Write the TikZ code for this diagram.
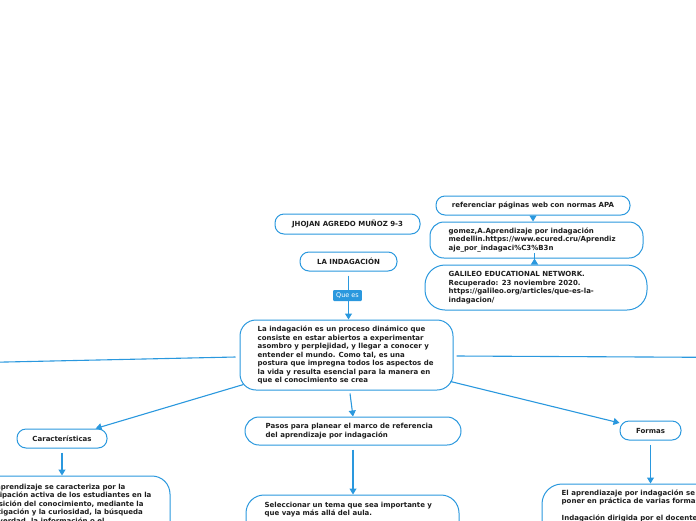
\documentclass[tikz,border=0pt]{standalone}
\usepackage{fontspec}
\setmainfont{DejaVu Sans}
\usetikzlibrary{arrows.meta,calc}
\definecolor{bl}{RGB}{42,152,222}
\definecolor{tx}{RGB}{30,30,30}
\begin{document}
\begin{tikzpicture}[x=1pt,y=-1pt,
 box/.style={draw=bl,line width=1pt,fill=white,rounded corners=#1,inner sep=0pt},
 box/.default=9pt,
 ttl/.style={font=\fontsize{7}{8.5}\selectfont\bfseries,text=tx},
 txt/.style={ttl,align=left,inner sep=0pt,anchor=west},
 conn/.style={draw=bl,line width=1.1pt,-{Triangle[width=7pt,length=6pt]}},
 lnk/.style={draw=bl,line width=1.1pt},
 tag/.style={fill=bl,text=white,font=\fontsize{6.5}{8}\selectfont,inner xsep=3pt,inner ysep=0pt,minimum height=11pt,rounded corners=1pt}]
\useasboundingbox (0,0) rectangle (696,520);
\clip (0,0) rectangle (696,520);

% top nodes
\node[box,ttl,minimum width=145pt,minimum height=20pt] (jhojan) at (347.5,224) {JHOJAN AGREDO MUÑOZ 9-3};
\node[box,ttl,minimum width=97pt,minimum height=19pt] (laind) at (348.5,261.5) {LA INDAGACIÓN};

\node[box,ttl,minimum width=194pt,minimum height=19pt] (ref) at (533,205.5) {referenciar páginas web con normas APA};
\node[box=14pt,minimum width=213pt,minimum height=36pt] (gomez) at (536.5,240) {};
\node[txt] (gomez-t) at ($(gomez.west)+(19,0)$) {gomez,A.Aprendizaje por indagación\\medellin.https://www.ecured.cru/Aprendiz\\aje\_por\_indagaci\%C3\%B3n};
\node[box=20pt,minimum width=222pt,minimum height=45pt] (galileo) at (536,287.5) {};
\node[txt] (galileo-t) at ($(galileo.west)+(24,0)$) {GALILEO EDUCATIONAL NETWORK.\\Recuperado: 23 noviembre 2020.\\https://galileo.org/articles/que-es-la-\\indagacion/};

% main
\node[box=16pt,minimum width=213pt,minimum height=70pt] (main) at (346.5,355) {};
\node[txt] (main-t) at ($(main.west)+(18,0)$) {La indagación es un proceso dinámico que\\consiste en estar abiertos a experimentar\\asombro y perplejidad, y llegar a conocer y\\entender el mundo. Como tal, es una\\postura que impregna todos los aspectos de\\la vida y resulta esencial para la manera en\\que el conocimiento se crea};

% second level
\node[box,ttl,minimum width=90pt,minimum height=19pt] (carac) at (62,438.5) {Características};
\node[box=14pt,minimum width=216pt,minimum height=28pt] (pasos) at (353,431) {};
\node[txt] (pasos-t) at ($(pasos.west)+(21,0)$) {Pasos para planear el marco de referencia\\del aprendizaje por indagación};
\node[box,ttl,minimum width=61pt,minimum height=19pt] (formas) at (650.5,430.5) {Formas};

% third level
\node[box=18pt,minimum width=212pt,minimum height=100pt] (caract) at (64,526) {};
\node[txt,anchor=north west] (caract-t) at ($(caract.north west)+(19,8)$) {Este aprendizaje se caracteriza por la\\participación activa de los estudiantes en la\\adquisición del conocimiento, mediante la\\investigación y la curiosidad, la búsqueda\\de la verdad, la información o el};
\node[box=18pt,minimum width=213pt,minimum height=80pt] (selecc) at (352.5,535) {};
\node[txt,anchor=north west] (selecc-t) at ($(selecc.north west)+(19,7)$) {Seleccionar un tema que sea importante y\\que vaya más allá del aula.};
\node[box=20pt,minimum width=258pt,minimum height=80pt] (formtx) at (671,524) {};
\node[txt,anchor=north west] (formtx-t) at ($(formtx.north west)+(20,6)$) {El aprendiazaje por indagación se puede\\poner en práctica de varias formas:\\[8.5pt]Indagación dirigida por el docente};

% connectors
\coordinate (offl) at (-40,363);
\coordinate (offr) at (740,357.5);
\draw[conn,shorten <=4pt] (laind.south) -- (laind.south |- main.north);
\node[tag] (quees) at (347.5,295.5) {Que es};
\draw[conn] (ref.south) -- (ref.south |- gomez.north);
\draw[conn] ($(gomez.south)+(-2,0)$) -- ($(gomez.south)+(-2,0)$ |- galileo.north);
\draw[lnk] ($(main.west)+(-4,2)$) -- (offl);
\draw[lnk] ($(main.east)+(3,1)$) -- (offr);
\draw[conn] ($(main.south west)+(4,-6)$) -- (carac);
\draw[conn] ($(main.south east)+(-3,-9)$) -- (formas);
\draw[conn] ($(main.south)+(3.5,3)$) -- (pasos.north);
\draw[conn,shorten <=4pt] (pasos.south) -- (pasos.south |- selecc.north);
\draw[conn,shorten <=4pt] (carac.south) -- (carac.south |- caract.north);
\draw[conn,shorten <=4pt] (formas.south) -- (formas.south |- formtx.north);
\end{tikzpicture}
\end{document}
